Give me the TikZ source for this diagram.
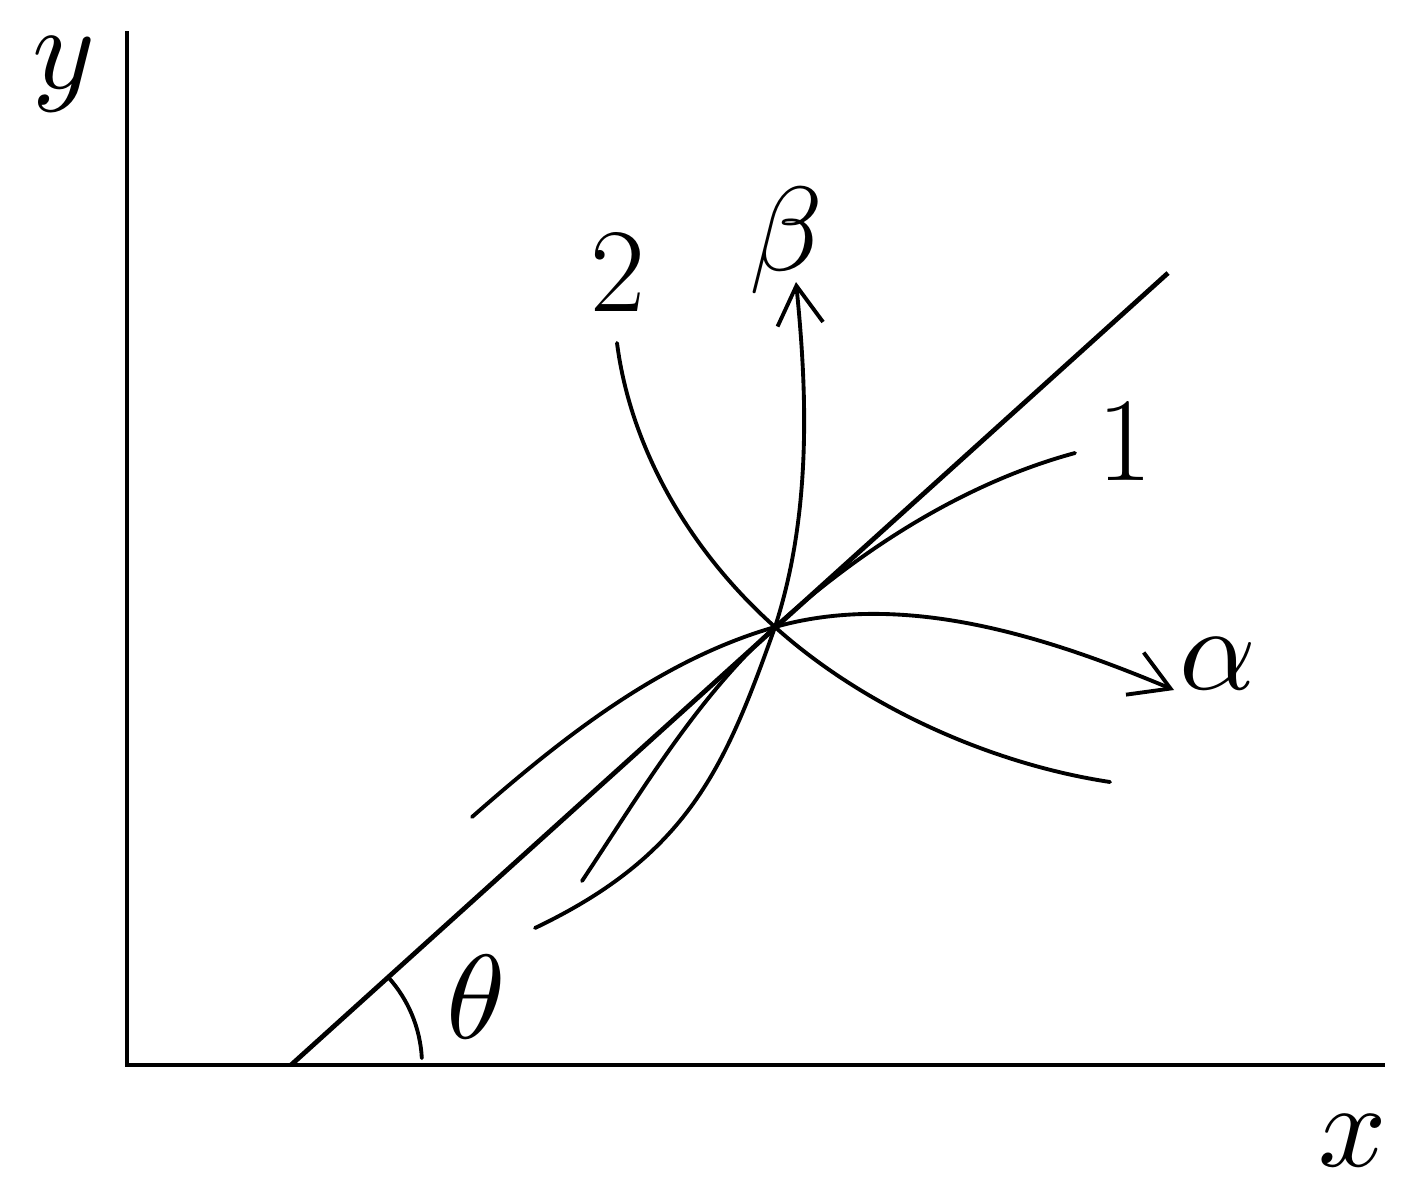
\documentclass[tikz,border=0pt]{standalone}
\usepackage{unicode-math}
\setmathfont{Latin Modern Math}
\usetikzlibrary{arrows.meta}
\begin{document}
\begin{tikzpicture}[x=0.01cm,y=-0.01cm,
  axis/.style={line width=1.4pt, line cap=rect},
  mainline/.style={line width=1.35pt},
  curve/.style={line width=1.1pt, line cap=round},
  barb/.style={-{Straight Barb[length=11pt,width=13pt,line width=1.1pt]}},
  lab/.style={inner sep=0pt, font=\fontsize{34}{40}\selectfont}]
\useasboundingbox (0,0) rectangle (1412,1200);
% axes
\coordinate (top) at (127,33);
\coordinate (orig) at (127,1065);
\coordinate (xend) at (1383,1065);
\draw[axis] (top) -- (orig) -- (xend);
% straight line
\coordinate (O) at (291,1065);
\coordinate (E) at (1168,273);
\coordinate (C) at (775,627);
\draw[mainline] (O) -- (E);
% angle arc
\draw[curve] ([shift={(-3:131)}]O) arc[start angle=-3, end angle=-42, radius=131];
% curve 2
\coordinate (c2a) at (617,343);
\coordinate (c2b) at (1110,782);
\draw[curve] (c2a) .. controls (631,452) and (693,554) .. (C)
  .. controls (864,707) and (991,764) .. (c2b);
% beta curve
\coordinate (ba) at (535,928);
\coordinate (bb) at (796,282);
\draw[curve,barb] (ba) .. controls (688,855) and (725,768) .. (C)
  .. controls (812,513) and (807,391) .. (bb);
% alpha curve
\coordinate (aa) at (472,817);
\coordinate (ab) at (1174,690);
\draw[curve,barb] (aa) .. controls (562,738) and (660,660) .. (C)
  .. controls (905,590) and (1050,638) .. (ab);
% curve 1
\coordinate (c1a) at (582,881);
\coordinate (c1b) at (1075,453);
\draw[curve] (c1a) .. controls (640,794) and (697,697) .. (C)
  .. controls (860,550) and (964,483) .. (c1b);
% labels
\node[lab] (ly) at (63,74) {$y$};
\node[lab] (lx) at (1353,1141) {$x$};
\node[lab] (lth) at (475,997) {$\theta$};
\node[lab] (la) at (1218,664) {$\alpha$};
\node[lab] (lb) at (785,240) {$\beta$};
\node[lab] (l1) at (1125,441) {1};
\node[lab] (l2) at (618,272) {2};
\end{tikzpicture}
\end{document}
